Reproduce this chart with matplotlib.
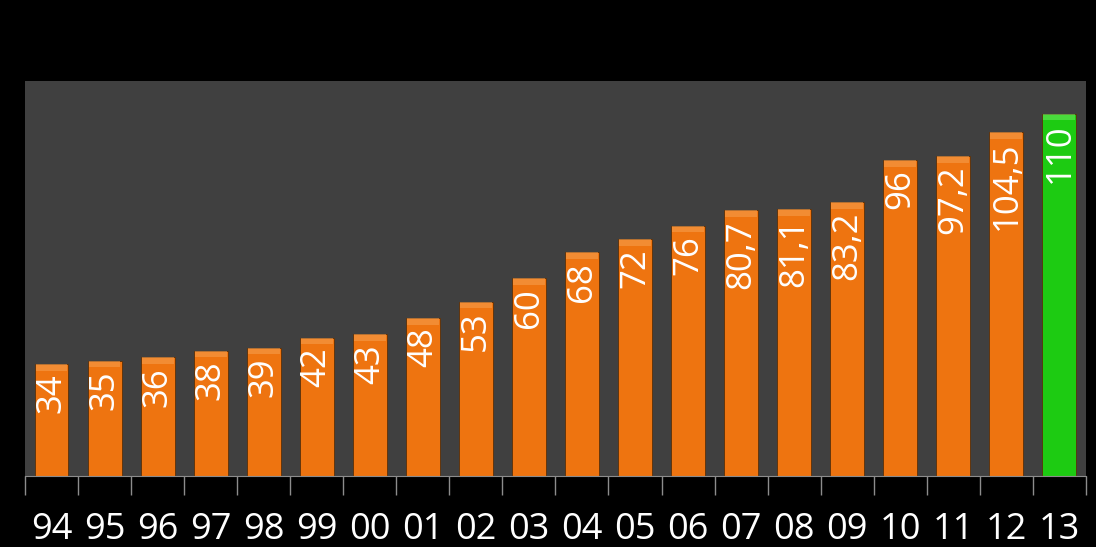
import numpy as np
import matplotlib.pyplot as plt

# data
years = ['94', '95', '96', '97', '98', '99', '00', '01', '02', '03',
         '04', '05', '06', '07', '08', '09', '10', '11', '12', '13']
values = [34, 35, 36, 38, 39, 42, 43, 48, 53, 60,
          68, 72, 76, 80.7, 81.1, 83.2, 96, 97.2, 104.5, 110]
labels = ['34', '35', '36', '38', '39', '42', '43', '48', '53', '60',
          '68', '72', '76', '80,7', '81,1', '83,2', '96', '97,2', '104,5', '110']

plt.rcParams['font.family'] = ['Open Sans', 'DejaVu Sans']

fig = plt.figure(figsize=(10.96, 5.47), dpi=100, facecolor='black')
ax = fig.add_axes([0.0228, 0.1298, 0.968, 0.7222])
ax.set_facecolor('#404040')

x = np.arange(len(years))
colors = ['#EE7410'] * (len(years) - 1) + ['#1DCB12']
tops = ['#F7A050'] * (len(years) - 1) + ['#6EE860']

bars = ax.bar(x, values, width=0.64, color=colors, edgecolor='#5a3008', linewidth=0.6, zorder=2)
# lighter bevel on top of each bar
ax.bar(x, [2.0] * len(x), bottom=np.array(values) - 2.0, width=0.6, color=tops,
       linewidth=0, zorder=3, alpha=0.55)

for xi, v, lab in zip(x, values, labels):
    ax.annotate(lab, (xi, v), xytext=(0, -7), textcoords='offset points',
                rotation=90, ha='center', va='top', color='white', fontsize=25, zorder=4)

ax.set_xlim(-0.5, len(years) - 0.5)
ax.set_ylim(0, 120)
ax.set_yticks([])
ax.set_xticks(x)
ax.set_xticklabels(years, fontsize=26, color='white')
ax.tick_params(axis='x', which='major', length=0, pad=26)
ax.set_xticks(np.arange(-0.5, len(years), 1), minor=True)
ax.tick_params(axis='x', which='minor', length=14, color='#8c8c8c', width=1)

for s in ['top', 'left', 'right']:
    ax.spines[s].set_visible(False)
ax.spines['bottom'].set_color('#8c8c8c')

fig.savefig('out.png', facecolor='black')
